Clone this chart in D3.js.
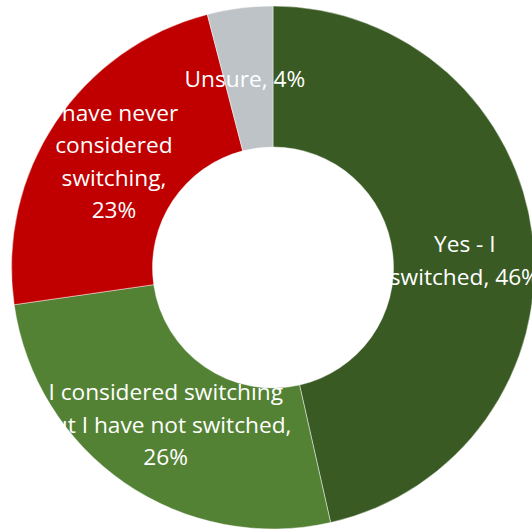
<!DOCTYPE html>
<html>
<head>
<meta charset="utf-8">
<script src="https://cdn.jsdelivr.net/npm/d3@7"></script>
<style>
  html, body { margin: 0; padding: 0; background: #fff; }
  svg { display: block; }
</style>
</head>
<body>
<svg id="chart" width="532" height="529"></svg>
<script>
const categories = ["Yes - I switched", "I considered switching but I have not switched", "I have never considered switching", "Unsure"];
const values = [46, 26, 23, 4];
const labelLines = [
  ["Yes - I", "switched, 46%"],
  ["I considered switching", "but I have not switched,", "26%"],
  ["I have never", "considered", "switching,", "23%"],
  ["Unsure, 4%"]
];
const colors = ["#3a5a24", "#548235", "#c00000", "#bec3c8"];

const W = 532, H = 529;
const cx = 273, cy = 267.5;
const outerR = 261.5, innerR = 120.5;
const fontSize = 22.7, lineH = 32.5;

const svg = d3.select("#chart");
const g = svg.append("g").attr("transform", `translate(${cx},${cy})`);

const data = categories.map((c, i) => ({ cat: c, value: values[i], lines: labelLines[i], color: colors[i] }));
const pie = d3.pie().sort(null).value(d => d.value);
const arc = d3.arc().innerRadius(innerR).outerRadius(outerR);
const arcs = pie(data);

g.selectAll("path.slice")
  .data(arcs)
  .join("path")
  .attr("class", "slice")
  .attr("d", arc)
  .attr("fill", d => d.data.color)
  .attr("stroke", "rgba(255,255,255,0.6)")
  .attr("stroke-width", 0.75);

const nudge = [[2, 14], [1, 0], [0, 0], [-4, 1]];
const labels = g.selectAll("text.lbl")
  .data(arcs)
  .join("text")
  .attr("class", "lbl")
  .attr("text-anchor", "middle")
  .attr("fill", "#ffffff")
  .style("font-family", "'Open Sans', sans-serif")
  .style("font-size", fontSize + "px")
  .attr("transform", (d, i) => {
    const [x, y] = arc.centroid(d);
    return `translate(${x + nudge[i][0]},${y + nudge[i][1]})`;
  });

labels.each(function(d) {
  const n = d.data.lines.length;
  const t = d3.select(this);
  d.data.lines.forEach((line, k) => {
    t.append("tspan")
      .attr("x", 0)
      .attr("y", (k - (n - 1) / 2) * lineH)
      .attr("dy", "0.35em")
      .text(line);
  });
});
</script>
</body>
</html>
